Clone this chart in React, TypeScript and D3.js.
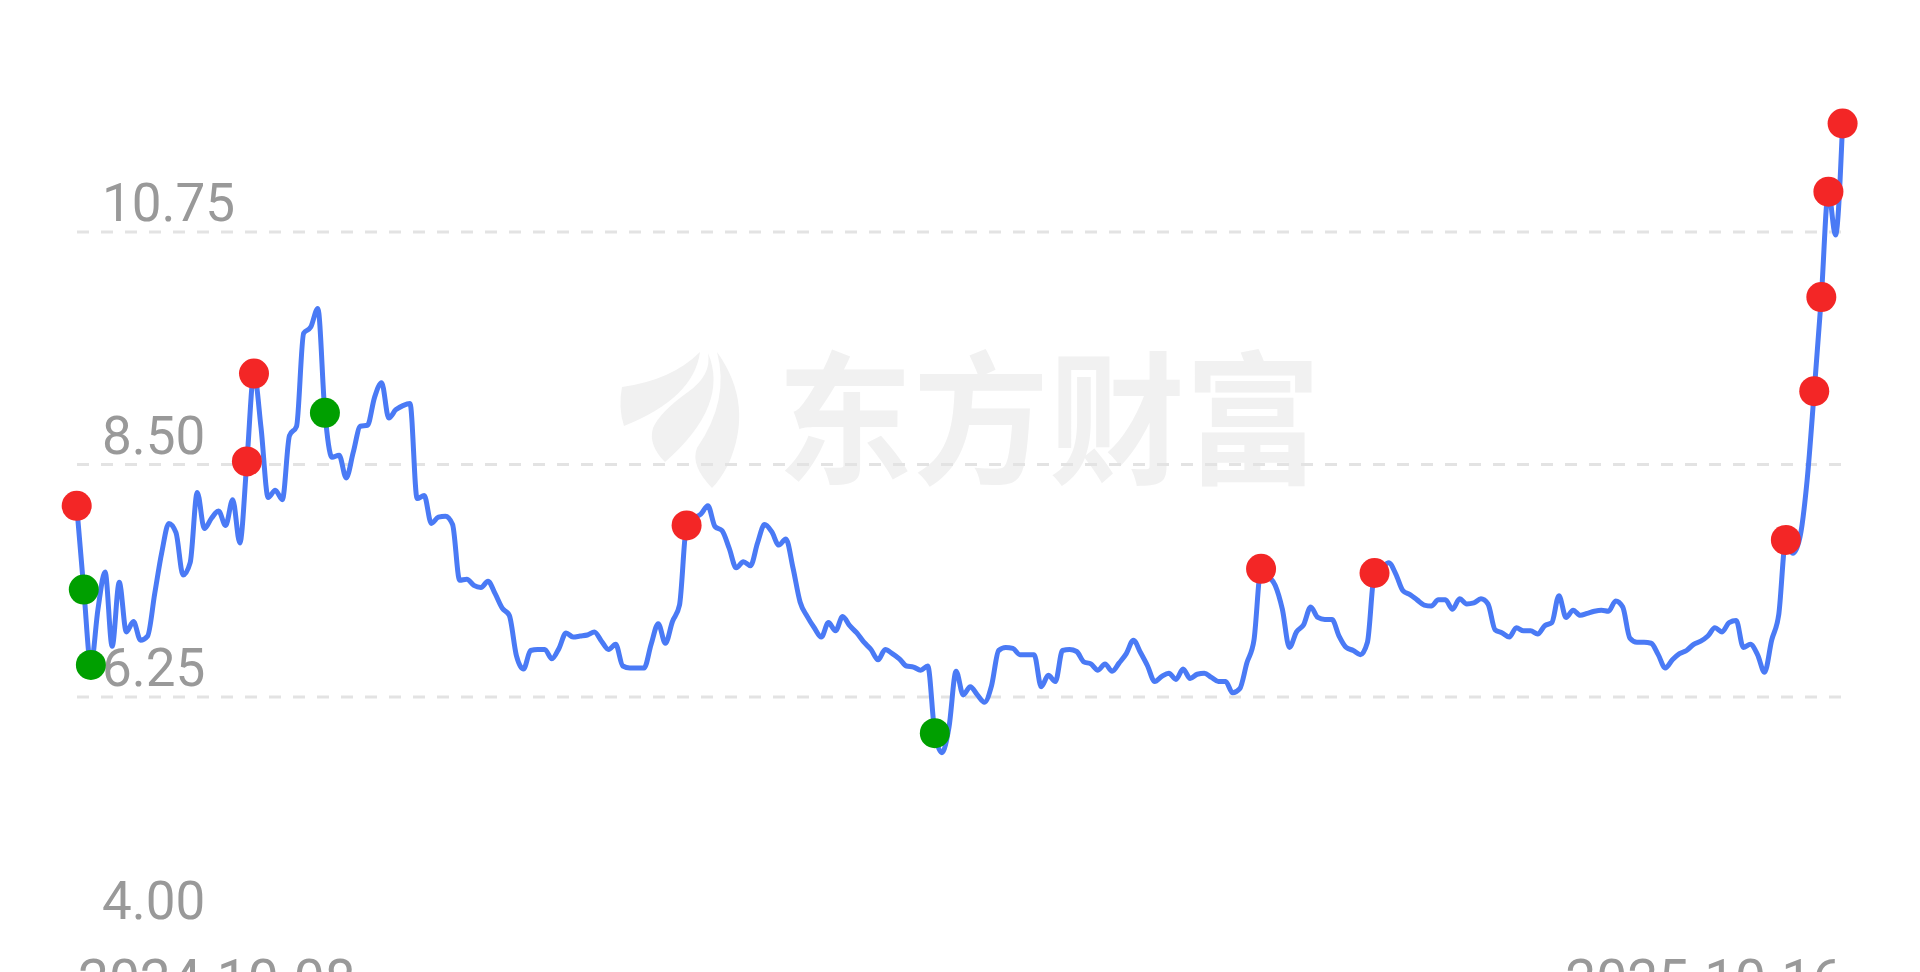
import React from 'react';
import * as d3 from 'd3';

const dateLabels = ['2024-10-08', '2025-10-16'];
const yTicks = [4.0, 6.25, 8.5, 10.75];
const gridTicks = [6.25, 8.5, 10.75];

const prices = [
  8.10, 7.29, 6.56, 7.10, 7.46, 6.74, 7.36, 6.88, 6.98, 6.80,
  6.84, 7.25, 7.65, 7.93, 7.84, 7.43, 7.55, 8.23, 7.88, 7.98,
  8.05, 7.91, 8.16, 7.74, 8.53, 9.38, 8.85, 8.18, 8.25, 8.16,
  8.78, 8.87, 9.77, 9.83, 10.01, 9.00, 8.57, 8.59, 8.37, 8.62,
  8.87, 8.88, 9.15, 9.29, 8.95, 9.03, 9.07, 9.09, 8.17, 8.20,
  7.93, 7.99, 8.00, 7.92, 7.38, 7.39, 7.33, 7.31, 7.37, 7.25,
  7.11, 7.04, 6.65, 6.52, 6.70, 6.71, 6.71, 6.62, 6.72, 6.87,
  6.83, 6.84, 6.85, 6.88, 6.79, 6.71, 6.76, 6.55, 6.53, 6.53,
  6.53, 6.76, 6.96, 6.77, 6.98, 7.14, 7.91, 7.98, 8.02, 8.10,
  7.90, 7.86, 7.69, 7.50, 7.56, 7.52, 7.74, 7.92, 7.85, 7.72,
  7.78, 7.50, 7.17, 7.03, 6.92, 6.83, 6.97, 6.89, 7.03, 6.94,
  6.87, 6.78, 6.71, 6.61, 6.71, 6.67, 6.62, 6.55, 6.54, 6.51,
  6.55, 5.90, 5.71, 5.96, 6.50, 6.27, 6.35, 6.27, 6.20, 6.36,
  6.70, 6.73, 6.72, 6.66, 6.66, 6.66, 6.35, 6.46, 6.40, 6.70,
  6.71, 6.69, 6.59, 6.57, 6.51, 6.57, 6.50, 6.58, 6.67, 6.80,
  6.68, 6.55, 6.40, 6.45, 6.48, 6.42, 6.52, 6.43, 6.47, 6.48,
  6.44, 6.40, 6.40, 6.29, 6.33, 6.58, 6.80, 7.49, 7.42, 7.33,
  7.10, 6.73, 6.88, 6.95, 7.12, 7.02, 7.00, 7.00, 6.84, 6.73,
  6.70, 6.66, 6.78, 7.45, 7.50, 7.55, 7.44, 7.28, 7.24, 7.19,
  7.14, 7.13, 7.19, 7.19, 7.10, 7.20, 7.15, 7.16, 7.20, 7.15,
  6.90, 6.87, 6.83, 6.92, 6.89, 6.89, 6.86, 6.94, 6.97, 7.23,
  7.02, 7.09, 7.04, 7.06, 7.08, 7.09, 7.08, 7.18, 7.12, 6.82,
  6.78, 6.78, 6.77, 6.66, 6.53, 6.61, 6.67, 6.70, 6.76, 6.79,
  6.84, 6.92, 6.88, 6.97, 6.99, 6.73, 6.76, 6.66, 6.49, 6.80,
  7.05, 7.77, 7.64, 7.80, 8.35, 9.21, 10.12, 11.14, 10.72, 11.80,
];

const redSignals = [0, 24, 25, 86, 167, 183, 241, 245, 246, 247, 249];
const greenSignals = [1, 2, 35, 121];

const W = 1920;
const H = 972;
const FONT = 'Roboto, "Noto Sans", sans-serif';

export default function App() {
  const x = d3.scaleLinear().domain([0, prices.length - 1]).range([76.7, 1842.6]);
  const y = d3.scaleLinear().domain([4, 10.75]).range([929.5, 232]);
  const line = d3
    .line<number>()
    .x((_, i) => x(i))
    .y((d) => y(d))
    .curve(d3.curveMonotoneX);

  const wm = '#f1f1f1';

  return (
    <svg
      width={W}
      height={H}
      style={{ position: 'fixed', left: 0, top: 0, background: '#fff' }}
    >
      {/* watermark */}
      <g fill={wm}>
        <path d="M622,387 Q672,380 700,352 Q694,398 624,426 Q618,408 622,387 Z" />
        <path d="M708,353 Q730,405 665,462 Q648,445 653,428 Q660,412 688,392 Q712,375 708,353 Z" />
        <path d="M717,352 Q755,405 728,465 Q720,480 712,488 Q690,465 697,448 Q730,400 717,352 Z" />
        <text
          x={777}
          y={0}
          fontFamily='"Noto Sans CJK SC", sans-serif'
          fontWeight={700}
          fontSize={136}
          transform="translate(0,473) scale(1,1.053)"
        >
          东方财富
        </text>
      </g>

      {/* grid lines */}
      {gridTicks.map((t) => (
        <line
          key={t}
          x1={77}
          x2={1841}
          y1={y(t)}
          y2={y(t)}
          stroke="#e3e3e3"
          strokeWidth={3}
          strokeDasharray="12,12"
        />
      ))}

      {/* y labels */}
      {yTicks.map((t) => (
        <text
          key={t}
          x={102}
          y={y(t) - 11}
          fill="#999999"
          fontFamily={FONT}
          fontSize={53}
        >
          {t.toFixed(2)}
        </text>
      ))}

      {/* x labels */}
      <text x={78} y={999} fill="#999999" fontFamily={FONT} fontSize={55}>
        {dateLabels[0]}
      </text>
      <text x={1843} y={999} fill="#999999" fontFamily={FONT} fontSize={55} textAnchor="end">
        {dateLabels[1]}
      </text>

      {/* price line */}
      <path
        d={line(prices) || ''}
        fill="none"
        stroke="#4a7af5"
        strokeWidth={5}
        strokeLinejoin="round"
        strokeLinecap="round"
      />

      {/* signals */}
      {redSignals.map((i) => (
        <circle key={'r' + i} cx={x(i)} cy={y(prices[i])} r={15} fill="#f32626" />
      ))}
      {greenSignals.map((i) => (
        <circle key={'g' + i} cx={x(i)} cy={y(prices[i])} r={15} fill="#009f00" />
      ))}
    </svg>
  );
}
